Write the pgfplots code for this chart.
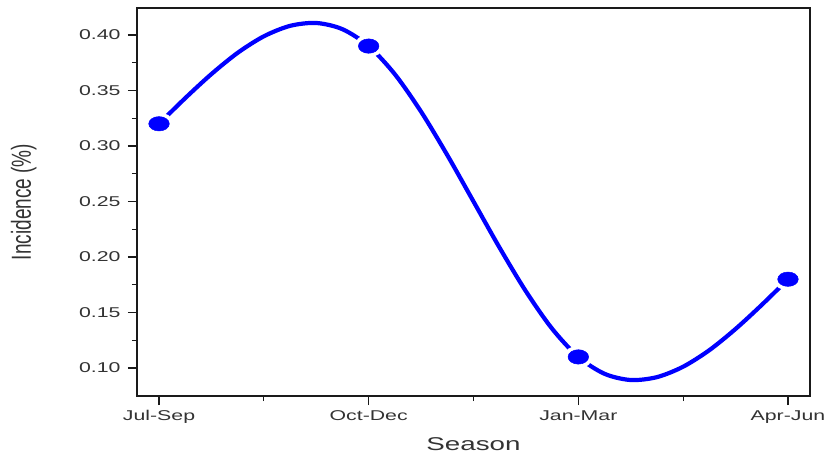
\documentclass[border=0pt]{standalone}
\usepackage{pgfplots}
\pgfplotsset{compat=1.18}
\usepackage{fontspec}
\setmainfont{Liberation Sans}
\newfontfamily\widefont[FakeStretch=1.5]{Liberation Sans}
\definecolor{txtgray}{HTML}{333333}
\definecolor{axgray}{HTML}{1A1A1A}
\begin{document}
\begin{tikzpicture}
\begin{axis}[
  at={(0,0)}, anchor=south west,
  scale only axis,
  width=673bp, height=388bp,
  xmin=-0.105, xmax=3.105,
  ymin=0.0748, ymax=0.4243,
  xtick={0,1,2,3},
  xticklabels={Jul-Sep,Oct-Dec,Jan-Mar,Apr-Jun},
  ytick={0.10,0.15,0.20,0.25,0.30,0.35,0.40},
  yticklabel style={xshift=-4bp, /pgf/number format/.cd,fixed,fixed zerofill,precision=2},
  /pgf/number format/assume math mode=true,
  minor x tick num=1,
  minor y tick num=1,
  tick pos=left,
  tick align=outside,
  major tick length=9bp,
  minor tick length=5bp,
  every tick/.style={axgray, line width=1.2bp},
  axis line style={axgray, line width=1.5bp},
  tick label style={font=\widefont\fontsize{14.2bp}{16bp}\selectfont, text=txtgray},
  xticklabel style={yshift=-2bp},
  xlabel={Season},
  ylabel={Incidence (\%)},
  xlabel style={font=\widefont\fontsize{18.5bp}{20bp}\selectfont, text=txtgray, yshift=-7bp},
  ylabel style={font=\fontsize{19bp}{21bp}\selectfont, text=txtgray, yshift=34bp, yscale=1.45},
  clip=false,
]
\addplot[blue, line width=4.2bp, smooth] coordinates {
(0,0.320) (0.125,0.3431) (0.25,0.3648) (0.375,0.3839) (0.5,0.3988)
(0.625,0.4082) (0.75,0.4108) (0.875,0.4052) (1,0.390)
(1.125,0.3646) (1.25,0.3309) (1.375,0.2918) (1.5,0.25)
(1.625,0.2082) (1.75,0.1691) (1.875,0.1354) (2,0.110)
(2.125,0.0948) (2.25,0.0892) (2.375,0.0918) (2.5,0.1012)
(2.625,0.1161) (2.75,0.1352) (2.875,0.1569) (3,0.180)
};
\addplot[only marks, mark=*, mark size=7.2bp,
  mark options={xscale=1.43, draw=white, fill=blue, line width=8bp}]
  coordinates {(0,0.32) (1,0.39) (2,0.11) (3,0.18)};
\addplot[only marks, mark=*, mark size=7.2bp,
  mark options={xscale=1.43, draw=blue, fill=blue, line width=0.5bp}]
  coordinates {(0,0.32) (1,0.39) (2,0.11) (3,0.18)};
\end{axis}
\pgfresetboundingbox
\path (-137bp,-57bp) rectangle (687bp,396bp);
\end{tikzpicture}
\end{document}
